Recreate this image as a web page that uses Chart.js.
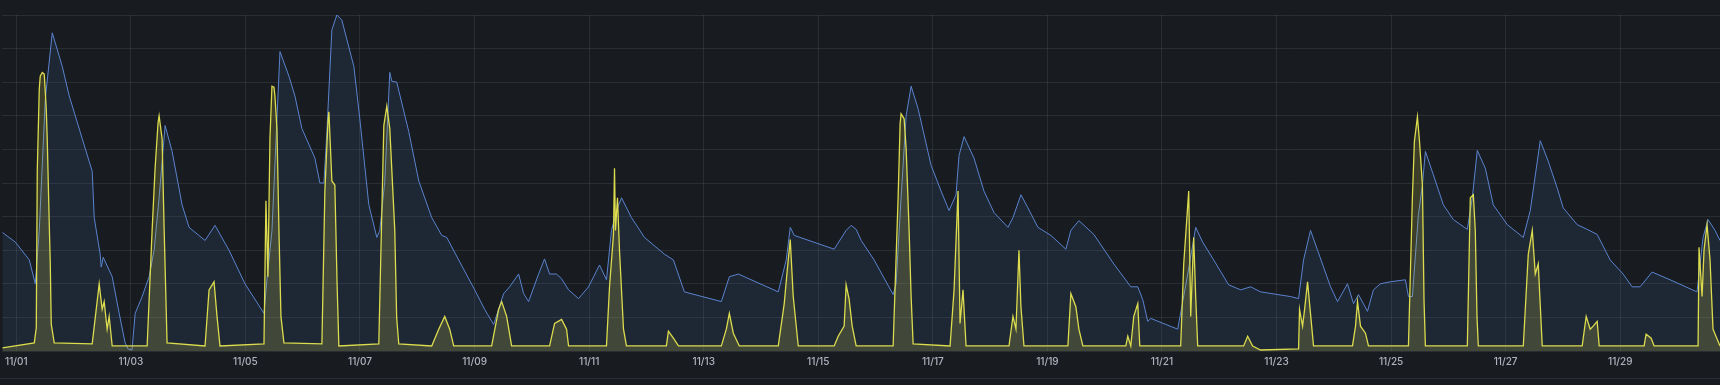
<!DOCTYPE html>
<html>
<head>
<meta charset="utf-8">
<script src="https://cdn.jsdelivr.net/npm/chart.js@4.4.1/dist/chart.umd.min.js"></script>
<style>
  html, body { margin: 0; padding: 0; background: #181b1f; }
  #wrap { position: relative; width: 1720px; height: 385px; }
  #sep { position: absolute; left: 0; top: 378px; width: 1720px; height: 1px; background: #2a2d33; }
</style>
</head>
<body>
<div id="wrap">
  <canvas id="chart" width="1720" height="385"></canvas>
  <div id="sep"></div>
</div>
<script>
// x = days since 11/01 00:00, y = value (0-100)
const xMin = -0.244;
const xMax = 29.742;
const tickDays = [0, 2, 4, 6, 8, 10, 12, 14, 16, 18, 20, 22, 24, 26, 28];
const tickLabels = ['11/01', '11/03', '11/05', '11/07', '11/09', '11/11', '11/13', '11/15',
                    '11/17', '11/19', '11/21', '11/23', '11/25', '11/27', '11/29'];

const blueSeries = [
  [-0.244, 35.3], [-0.017, 32.4], [0.227, 27.1], [0.331, 20.0], [0.401, 35.9], [0.506, 75.0],
  [0.628, 94.7], [0.802, 84.7], [0.924, 75.9], [1.151, 63.2], [1.325, 53.5], [1.360, 39.7],
  [1.464, 28.8], [1.482, 25.0], [1.517, 27.9], [1.674, 22.1], [1.796, 11.2], [1.900, 2.4],
  [1.953, 0.6], [2.020, 0.3], [2.075, 11.2], [2.197, 16.2], [2.319, 22.1], [2.406, 30.0],
  [2.493, 45.6], [2.598, 67.1], [2.720, 59.4], [2.894, 43.5], [3.016, 36.8], [3.295, 32.9],
  [3.469, 37.4], [3.713, 30.0], [3.992, 20.0], [4.324, 11.2], [4.376, 21.2], [4.463, 35.9],
  [4.603, 89.1], [4.759, 81.8], [4.864, 75.9], [4.986, 66.2], [5.213, 57.4], [5.300, 50.0],
  [5.370, 50.0], [5.422, 65.3], [5.509, 95.6], [5.596, 100], [5.683, 98.5], [5.893, 84.7],
  [5.997, 69.1], [6.154, 43.5], [6.294, 33.8], [6.346, 35.9], [6.433, 50.6], [6.520, 82.9],
  [6.555, 80.3], [6.642, 80.0], [6.851, 65.3], [7.026, 50.6], [7.252, 39.7], [7.427, 34.4],
  [7.514, 33.8], [7.723, 27.1], [8.002, 18.2], [8.176, 12.4], [8.333, 7.9], [8.508, 17.1],
  [8.612, 19.1], [8.769, 22.9], [8.856, 17.1], [8.943, 14.7], [9.118, 22.9], [9.222, 27.4],
  [9.310, 22.9], [9.432, 22.9], [9.519, 21.5], [9.641, 18.2], [9.815, 15.6], [9.990, 19.1],
  [10.181, 25.6], [10.303, 21.2], [10.391, 35.9], [10.478, 41.8], [10.565, 45.6], [10.739, 39.7],
  [10.966, 33.8], [11.315, 28.8], [11.471, 27.1], [11.663, 17.6], [12.308, 14.7], [12.448, 22.1],
  [12.605, 22.9], [13.302, 17.6], [13.441, 27.1], [13.511, 36.8], [13.581, 34.4], [14.278, 30.3],
  [14.487, 35.9], [14.575, 37.4], [14.662, 36.2], [14.749, 32.9], [14.975, 27.1], [15.307, 16.8],
  [15.359, 20.0], [15.446, 45.6], [15.534, 70.0], [15.621, 78.8], [15.743, 72.1], [15.969, 55.3],
  [16.144, 47.6], [16.283, 41.8], [16.405, 46.5], [16.458, 58.2], [16.545, 63.8], [16.719, 57.4],
  [16.893, 47.6], [17.068, 41.2], [17.312, 36.8], [17.399, 39.7], [17.538, 46.5], [17.660, 42.6],
  [17.835, 36.8], [18.061, 34.4], [18.323, 30.3], [18.410, 35.9], [18.550, 38.8], [18.811, 34.7],
  [19.160, 25.9], [19.456, 19.1], [19.578, 19.1], [19.665, 15.3], [19.752, 8.8], [19.805, 9.7],
  [20.275, 6.5], [20.450, 22.9], [20.589, 36.8], [20.711, 32.4], [20.903, 27.1], [21.164, 19.7],
  [21.374, 18.2], [21.548, 19.1], [21.722, 17.6], [22.245, 16.2], [22.385, 15.6], [22.472, 27.1],
  [22.594, 35.9], [22.716, 30.0], [22.943, 19.1], [23.065, 14.7], [23.239, 20.0], [23.344, 14.1],
  [23.431, 16.8], [23.588, 11.8], [23.692, 18.2], [23.814, 20.0], [23.989, 20.6], [24.250, 21.2],
  [24.303, 16.2], [24.372, 16.2], [24.477, 40.6], [24.547, 49.4], [24.599, 59.4], [24.739, 52.4],
  [24.913, 43.5], [25.087, 39.1], [25.331, 36.2], [25.418, 45.6], [25.505, 59.7], [25.645, 54.4],
  [25.784, 43.5], [26.029, 37.6], [26.308, 33.8], [26.430, 41.8], [26.604, 62.6], [26.743, 56.5],
  [26.900, 48.5], [27.005, 42.6], [27.249, 37.6], [27.423, 36.2], [27.598, 34.7], [27.824, 27.1],
  [28.051, 22.9], [28.208, 19.1], [28.347, 19.1], [28.557, 23.5], [28.870, 21.2], [29.341, 17.6],
  [29.446, 33.8], [29.533, 39.1], [29.655, 35.9], [29.742, 32.9]
];

const yellowSeries = [
  [-0.244, 0.9], [0.314, 2.4], [0.349, 7.0], [0.366, 53.5], [0.401, 78.0], [0.418, 81.8],
  [0.453, 82.9], [0.488, 82.4], [0.523, 72.0], [0.540, 63.2], [0.575, 38.0], [0.593, 25.9],
  [0.610, 8.0], [0.662, 2.4], [1.325, 2.1], [1.447, 20.0], [1.499, 12.4], [1.534, 14.7],
  [1.586, 6.5], [1.621, 10.3], [1.674, 1.5], [2.284, 1.5], [2.371, 35.9], [2.423, 54.4],
  [2.475, 68.0], [2.493, 70.0], [2.545, 63.2], [2.580, 36.8], [2.632, 2.4], [3.295, 1.5],
  [3.365, 18.2], [3.452, 20.6], [3.504, 10.3], [3.556, 1.5], [4.324, 2.1], [4.358, 44.7],
  [4.393, 22.1], [4.428, 63.2], [4.463, 78.8], [4.498, 78.5], [4.515, 75.9], [4.550, 66.2],
  [4.585, 35.9], [4.620, 10.3], [4.672, 2.4], [5.335, 2.1], [5.387, 47.6], [5.440, 68.0],
  [5.457, 71.2], [5.509, 50.6], [5.561, 49.4], [5.600, 20.0], [5.631, 1.5], [6.328, 2.1],
  [6.416, 67.1], [6.468, 72.9], [6.520, 66.2], [6.607, 35.9], [6.640, 10.0], [6.677, 2.1],
  [7.252, 1.5], [7.374, 6.5], [7.479, 10.3], [7.566, 6.5], [7.636, 1.5], [8.298, 1.5],
  [8.420, 12.4], [8.473, 14.7], [8.560, 10.3], [8.647, 1.5], [9.310, 1.5], [9.397, 8.2],
  [9.519, 9.4], [9.606, 6.5], [9.641, 1.5], [10.303, 1.5], [10.356, 19.1], [10.425, 34.7],
  [10.443, 54.4], [10.460, 35.9], [10.495, 45.6], [10.530, 30.0], [10.600, 6.5], [10.652, 1.5],
  [11.349, 1.5], [11.384, 5.9], [11.471, 3.8], [11.559, 1.5], [12.308, 1.5], [12.395, 6.5],
  [12.448, 11.2], [12.517, 5.3], [12.622, 1.5], [13.302, 1.5], [13.406, 14.1], [13.459, 24.1],
  [13.511, 33.2], [13.563, 16.2], [13.651, 1.5], [14.278, 1.5], [14.348, 4.4], [14.452, 7.4],
  [14.487, 19.7], [14.540, 15.3], [14.592, 7.4], [14.662, 1.5], [15.307, 1.5], [15.394, 45.6],
  [15.429, 67.6], [15.446, 70.6], [15.499, 69.1], [15.534, 60.3], [15.586, 35.9], [15.621, 16.2],
  [15.656, 2.1], [16.301, 1.5], [16.371, 18.2], [16.440, 47.6], [16.475, 8.2], [16.527, 18.2],
  [16.580, 1.5], [17.330, 1.5], [17.399, 10.3], [17.451, 6.5], [17.504, 30.0], [17.538, 13.2],
  [17.591, 1.5], [18.358, 1.5], [18.410, 17.1], [18.497, 13.2], [18.550, 6.5], [18.619, 1.5],
  [19.369, 1.5], [19.404, 4.4], [19.456, 1.5], [19.508, 10.3], [19.578, 14.1], [19.613, 1.5],
  [20.327, 1.5], [20.380, 25.9], [20.432, 38.8], [20.467, 47.6], [20.502, 10.3], [20.554, 33.8],
  [20.589, 16.2], [20.624, 1.5], [21.426, 1.5], [21.496, 4.4], [21.583, 1.5], [21.722, 0.3],
  [22.385, 0.6], [22.402, 12.4], [22.455, 7.4], [22.490, 12.4], [22.542, 20.6], [22.577, 14.1],
  [22.646, 1.5], [23.326, 1.5], [23.379, 7.4], [23.414, 14.7], [23.466, 7.4], [23.553, 5.3],
  [23.605, 1.5], [24.303, 1.5], [24.372, 45.6], [24.407, 62.4], [24.460, 69.7], [24.495, 62.6],
  [24.547, 49.4], [24.575, 15.0], [24.599, 1.5], [25.331, 1.5], [25.383, 45.6], [25.436, 46.5],
  [25.470, 35.9], [25.500, 10.0], [25.523, 1.5], [26.308, 1.5], [26.395, 28.8], [26.465, 35.9],
  [26.517, 22.9], [26.569, 25.9], [26.639, 1.5], [27.336, 1.5], [27.406, 10.3], [27.476, 6.5],
  [27.528, 7.4], [27.598, 8.8], [27.633, 1.5], [28.417, 1.5], [28.452, 5.0], [28.540, 3.8],
  [28.592, 1.5], [29.359, 1.5], [29.376, 30.9], [29.429, 16.2], [29.463, 30.0], [29.516, 37.6],
  [29.568, 27.1], [29.620, 6.5], [29.742, 1.5]
];

const toPoints = arr => arr.map(p => ({ x: p[0], y: p[1] }));

new Chart(document.getElementById('chart'), {
  type: 'line',
  data: {
    datasets: [
      {
        label: 'yellow',
        data: toPoints(yellowSeries),
        borderColor: '#dcdc4e',
        backgroundColor: 'rgba(220,220,78,0.19)',
        borderWidth: 1.3,
        fill: 'origin',
        pointRadius: 0,
        tension: 0
      },
      {
        label: 'blue',
        data: toPoints(blueSeries),
        borderColor: '#5b84cf',
        backgroundColor: 'rgba(87,148,242,0.10)',
        borderWidth: 1,
        fill: 'origin',
        pointRadius: 0,
        tension: 0
      }
    ]
  },
  options: {
    responsive: false,
    animation: false,
    layout: { padding: { top: 15, bottom: 12, left: 0, right: 0 } },
    plugins: { legend: { display: false }, tooltip: { enabled: false } },
    scales: {
      x: {
        type: 'linear',
        min: xMin,
        max: xMax,
        afterBuildTicks: axis => { axis.ticks = tickDays.map(v => ({ value: v })); },
        ticks: {
          autoSkip: false,
          maxRotation: 0,
          padding: 5,
          color: 'rgba(204,204,220,0.85)',
          font: { family: 'Inter', size: 10, weight: '500' },
          callback: value => tickLabels[tickDays.indexOf(value)]
        },
        grid: { color: 'rgba(204,204,220,0.10)', drawTicks: false },
        border: { display: false }
      },
      y: {
        min: 0,
        max: 100,
        ticks: { display: false, stepSize: 10 },
        grid: { color: 'rgba(204,204,220,0.10)', drawTicks: false },
        border: { display: false }
      }
    }
  }
});
</script>
</body>
</html>
